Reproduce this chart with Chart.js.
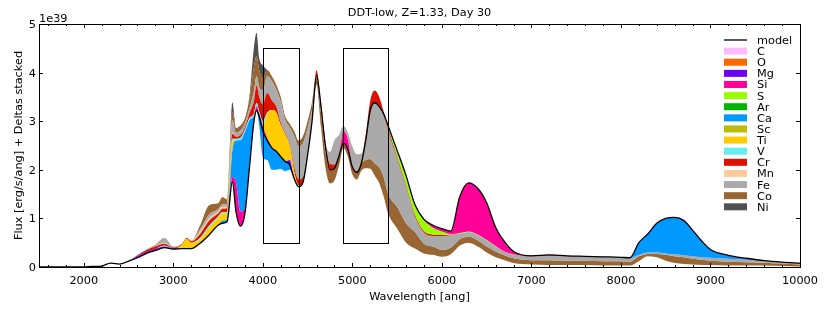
<!DOCTYPE html>
<html>
<head>
<meta charset="utf-8">
<script src="https://cdn.jsdelivr.net/npm/chart.js@4.4.1/dist/chart.umd.min.js"></script>
<style>
  html, body { margin: 0; padding: 0; background: #fff; }
</style>
</head>
<body>
<canvas id="spec" width="830" height="312"></canvas>
<script>
// wavelength grid [ang] and model flux [1e39 erg/s/ang]
const wavelength = [
    1500, 1700, 1900, 2100, 2200, 2300, 2400, 2500,
    2600, 2700, 2800, 2900, 3000, 3100, 3150, 3200, 3300,
    3400, 3500, 3550, 3600, 3660, 3700, 3750, 3800, 3850, 3900, 3930, 3960,
    4000, 4050, 4100, 4150, 4200, 4250, 4300, 4350, 4400, 4450, 4500, 4550, 4600,
    4650, 4700, 4750, 4800, 4850, 4900, 4950, 5000, 5050, 5100, 5150, 5200, 5250, 5300, 5350, 5400,
    5500, 5600, 5700, 5800, 5900, 6000, 6100, 6200, 6300, 6400, 6500, 6600, 6700, 6800,
    7000, 7200, 7400, 7600, 7800, 8000, 8100,
    8200, 8300, 8400, 8500, 8600, 8700, 8800, 8900, 9000,
    9200, 9400, 9600, 9800, 10000
];
const model = [
    0, 0, 0, 0.01, 0.02, 0.08, 0.06, 0.12,
    0.19, 0.28, 0.34, 0.40, 0.37, 0.38, 0.38, 0.38, 0.49,
    0.66, 0.86, 0.90, 0.93, 1.75, 1.14, 0.84, 1.10, 2.03, 2.98, 3.22, 3.10,
    2.80, 2.60, 2.45, 2.38, 2.27, 2.17, 2.10, 1.82, 1.65, 1.75, 2.30, 3.00, 3.95,
    3.30, 2.47, 2.00, 2.03, 2.28, 2.55, 2.42, 2.06, 1.95, 2.13, 2.61, 3.22, 3.38, 3.30, 3.15, 2.90,
    2.40, 1.88, 1.28, 0.98, 0.86, 0.79, 0.74, 1.45, 1.73, 1.62, 1.32, 0.82, 0.52, 0.32,
    0.23, 0.25, 0.23, 0.22, 0.21, 0.20, 0.19,
    0.50, 0.68, 0.90, 1.00, 1.02, 0.96, 0.76, 0.54, 0.36,
    0.24, 0.18, 0.13, 0.10, 0.08
];

// per-element deltas (positive: stacked above the model, negative: below)
const dMg = [
    0, 0, 0, 0, 0, 0, 0, 0,
    0.03, 0.03, 0.03, 0.02, 0.01, 0, 0, 0, 0,
    0, 0, 0, 0, 0, 0, 0, 0, 0, 0, 0, 0,
    0, 0, 0, 0, 0, 0, 0.1, 0, 0, 0, 0, 0, 0,
    0, 0, 0, 0, 0, 0, 0, 0, 0, 0, 0, 0, 0, 0, 0, 0,
    0, 0, 0, 0, 0, 0, 0, 0, 0, 0, 0, 0, 0, 0,
    0, 0, 0, 0, 0, 0, 0,
    0, 0, 0, 0, 0, 0, 0, 0, 0,
    0, 0, 0, 0, 0
];
const dSi = [
    0, 0, 0, 0, 0, 0, 0, 0,
    0, 0, 0, 0, 0, 0, 0, 0, 0,
    0, 0, 0, 0, 0.1, 0.6, 0.3, 0.1, 0.03, 0.03, 0.08, 0.05,
    0.1, 0.05, 0.03, 0, 0, 0, 0, 0, 0, 0, 0, 0, 0,
    0, 0, 0, 0, 0, 0.25, 0.2, 0, 0, 0, 0, 0, 0, 0, 0, 0,
    0, 0, 0, -0.02, -0.05, -0.06, -0.06, -0.75, -1.0, -0.95, -0.76, -0.39, -0.2, -0.06,
    -0.01, -0.01, -0.01, 0, 0, 0, 0,
    0, 0, 0, 0, 0, 0, 0, 0, 0,
    -0.01, -0.01, 0, 0, 0
];
const dS = [
    0, 0, 0, 0, 0, 0, 0, 0,
    0, 0, 0, 0, 0, 0, 0, 0, 0,
    0, 0, 0, 0, 0, 0, 0, 0, 0, 0, 0, 0,
    0, 0, 0, 0, 0, 0, 0, 0, 0, 0, 0, 0, 0,
    0, 0, 0, 0, 0, 0, 0, 0, 0, 0, 0, 0, 0, 0, 0, -0.05,
    -0.12, -0.18, -0.2, -0.22, -0.14, -0.07, -0.01, -0.01, -0.01, -0.01, -0.01, -0.01, 0, 0,
    0, 0, 0, 0, 0, 0, 0,
    0, 0, 0, 0, 0, 0, 0, 0, 0,
    0, 0, 0, 0, 0
];
const dCa = [
    0, 0, 0, 0, 0, 0, 0, 0,
    0, 0, 0, 0, 0, 0, 0, 0, 0,
    0, 0, 0.05, 0.05, 0.55, 0.86, 1.47, 1.58, 0.95, 0.1, 0, -0.2,
    -0.55, -0.4, -0.45, -0.38, -0.25, -0.2, -0.1, 0, 0, 0, 0, 0, 0,
    0, 0, 0, 0, 0, 0, 0, 0, 0, 0, 0, 0, 0, 0, 0, 0,
    0, 0, 0, 0, 0, 0, 0, 0, 0, 0, 0, 0, 0, 0,
    0, 0, 0, 0, 0, 0, -0.01,
    -0.25, -0.38, -0.6, -0.72, -0.76, -0.72, -0.54, -0.34, -0.17,
    -0.06, -0.02, 0, 0, 0
];
const dTi = [
    0, 0, 0, 0, 0, 0, 0, 0,
    0, 0, 0, 0, 0, 0.08, 0.2, 0.12, 0.08,
    0.15, 0.15, 0.15, 0.12, 0.2, 0, 0, 0, 0, 0, 0, 0,
    0, 0.5, 0.75, 0.8, 0.65, 0.55, 0.3, 0.15, 0.03, 0, 0, 0, 0,
    0, 0, 0, 0, 0, 0, 0, 0, 0, 0, 0, 0, 0, 0, 0, 0,
    0, 0, 0, 0, 0, 0, 0, 0, 0, 0, 0, 0, 0, 0,
    0, 0, 0, 0, 0, 0, 0,
    0, 0, 0, 0, 0, 0, 0, 0, 0,
    0, 0, 0, 0, 0
];
const dV = [
    0, 0, 0, 0, 0, 0, 0, 0,
    0, 0, 0, 0.02, 0, 0, 0, 0, 0.03,
    0.04, 0.03, 0.03, 0.03, 0.04, 0.04, 0.05, 0.05, 0.05, 0.05, 0.08, 0.05,
    0.1, 0.03, 0, 0, 0, 0, 0, 0, 0, 0, 0, 0, 0,
    0, 0, 0, 0, 0, 0, 0, 0, 0, 0, 0, 0, 0, 0, 0, 0,
    0, 0, 0, 0, 0, 0, 0, 0, 0, 0, 0, 0, 0, 0,
    0, 0, 0, 0, 0, 0, 0,
    0, 0, 0, 0, 0, 0, 0, 0, 0,
    0, 0, 0, 0, 0
];
const dCr = [
    0, 0, 0, 0, 0, 0, 0, 0,
    0.02, 0.04, 0.05, 0.04, 0.02, 0.02, 0.02, 0.03, 0.08,
    0.1, 0.06, 0.07, 0.08, 0.1, 0.04, 0.05, 0.05, 0.1, 0.25, 0.35, 0.3,
    0.35, 0.4, 0.2, 0.12, 0.05, 0.03, 0.03, 0.08, 0.12, 0.1, 0.05, 0.05, 0.1,
    0.08, 0.08, 0.12, 0.08, 0.03, 0, 0, 0.02, 0.02, 0.05, 0.12, 0.2, 0.25, 0.2, 0.05, -0.05,
    -0.04, -0.04, -0.04, -0.03, -0.03, -0.02, -0.01, 0, 0, 0, 0, 0, 0, 0,
    0, -0.01, 0, 0, 0, 0, 0,
    0, 0, 0, 0, 0, 0, 0, 0, 0,
    0, 0, 0, 0, 0
];
const dMn = [
    0, 0, 0, 0, 0, 0, 0, 0,
    0, 0, 0, 0.02, 0, 0, 0, 0, 0.05,
    0.05, 0.04, 0.04, 0.03, 0.03, 0, 0, 0, 0, 0, 0, 0,
    0, 0, 0, 0, 0, 0, 0, 0, 0, 0, 0, 0, 0,
    0, 0, 0, 0, 0, 0, 0, 0, 0, 0, 0, 0, 0, 0, 0, 0,
    0, 0, 0, 0, 0, 0, 0, 0, 0, 0, 0, 0, 0, 0,
    0, 0, 0, 0, 0, 0, 0,
    0, 0, 0, 0, 0, 0, 0, 0, 0,
    0, 0, 0, 0, 0
];
const dFe = [
    0, 0, 0, 0, 0, 0, 0, 0,
    0, 0.01, 0.03, 0.1, 0.02, 0, 0, 0.01, 0.05,
    0.08, 0.05, 0.05, 0.05, 0.25, 0.08, 0.1, 0.08, 0.1, 0.2, 0.2, 0.2,
    0.28, 0.35, 0.4, 0.35, 0.43, 0.27, 0.35, 0.65, 0.68, 0.7, 0.5, 0.2, 0,
    -0.12, -0.1, 0.25, 0.5, 0.4, 0.1, 0.15, 0.4, 0.35, 0.15, -0.41, -1.0, -1.25, -1.25, -1.3, -1.3,
    -1.0, -0.76, -0.32, -0.23, -0.22, -0.29, -0.26, -0.12, -0.1, -0.11, -0.13, -0.1, -0.08, -0.08,
    -0.08, -0.09, -0.09, -0.09, -0.09, -0.08, -0.07,
    -0.03, -0.03, -0.03, -0.03, -0.04, -0.04, -0.05, -0.05, -0.06,
    -0.06, -0.05, -0.04, -0.03, -0.03
];
const dCo = [
    0, 0, 0, 0, 0, 0, 0, 0,
    0, 0, 0.01, 0, 0, 0, 0, 0, 0.08,
    0.19, 0.12, 0.15, 0.1, 0.17, 0.1, 0.1, 0.1, 0.2, 0.5, 0.41, 0.35,
    0.25, 0.12, 0.1, 0.1, 0.1, 0.08, 0.07, 0.1, 0.12, 0.15, 0.15, 0.15, -0.2,
    -0.3, -0.33, -0.28, -0.25, -0.2, -0.1, -0.15, -0.15, -0.15, -0.15, -0.17, -0.2, -0.25, -0.32, -0.4, -0.4,
    -0.45, -0.4, -0.34, -0.2, -0.17, -0.14, -0.14, -0.13, -0.12, -0.13, -0.12, -0.12, -0.1, -0.1,
    -0.09, -0.1, -0.09, -0.09, -0.09, -0.09, -0.08,
    -0.1, -0.05, -0.07, -0.12, -0.14, -0.14, -0.12, -0.11, -0.09,
    -0.08, -0.07, -0.06, -0.05, -0.04
];
const dNi = [
    0, 0, 0, 0, 0, 0, 0, 0,
    0, 0, 0, 0, 0, 0, 0, 0, 0,
    0, 0, 0, 0, 0.2, 0, 0, 0, 0.05, 0.4, 0.48, 0.25,
    0.27, 0, 0, 0, 0, 0, 0, 0, 0, 0, 0, 0, 0,
    0, 0, 0, 0, 0, 0, 0, 0, 0, 0, 0, 0, 0, 0, 0, 0,
    0, 0, 0, 0, 0, 0, 0, 0, 0, 0, 0, 0, 0, 0,
    0, 0, 0, 0, 0, 0, 0,
    0, 0, 0, 0, 0, 0, 0, 0, 0,
    0, 0, 0, 0, 0
];

const elements = ['C', 'O', 'Mg', 'Si', 'S', 'Ar', 'Ca', 'Sc', 'Ti', 'V', 'Cr', 'Mn', 'Fe', 'Co', 'Ni'];
const elementColors = ['#ffbbff', '#ff6600', '#6a00ff', '#ff0099', '#99ff00', '#00b400', '#0099ff', '#bbbb00',
                       '#ffcc00', '#66eeee', '#dd1100', '#ffcc99', '#aaaaaa', '#996633', '#505050'];
// C, O, Ar and Sc have no visible contribution
const deltas = { Mg: dMg, Si: dSi, S: dS, Ca: dCa, Ti: dTi, V: dV, Cr: dCr, Mn: dMn, Fe: dFe, Co: dCo, Ni: dNi };

const xTicks = [2000, 3000, 4000, 5000, 6000, 7000, 8000, 9000, 10000];
const xMinorTicks = [1600, 1800, 2200, 2400, 2600, 2800, 3200, 3400, 3600, 3800, 4200, 4400, 4600, 4800,
                     5200, 5400, 5600, 5800, 6200, 6400, 6600, 6800, 7200, 7400, 7600, 7800,
                     8200, 8400, 8600, 8800, 9200, 9400, 9600, 9800];
const yTicks = [0, 1, 2, 3, 4, 5];
// [x0, x1, y0, y1] in data units
const boxes = [[4000, 4400, 0.5, 4.5], [4900, 5400, 0.5, 4.5]];

const FONT = '11.3px "DejaVu Sans", sans-serif';
const pts = arr => wavelength.map((x, i) => ({ x: x, y: arr[i] }));

const datasets = [{
    label: 'model',
    data: pts(model),
    borderColor: '#000',
    borderWidth: 1.3,
    fill: false,
    order: -1
}];

function addStack(keep) {
    datasets.push({ data: pts(model), borderColor: 'rgba(0,0,0,0)', borderWidth: 0, fill: false });
    let prev = datasets.length - 1;
    let level = model.slice();
    elements.forEach((el, k) => {
        const d = deltas[el];
        if (!d) return;
        level = level.map((v, i) => v + keep(d[i]));
        datasets.push({
            label: el,
            data: pts(level),
            backgroundColor: elementColors[k],
            borderColor: 'rgba(0,0,0,0)',
            borderWidth: 0,
            fill: prev
        });
        prev = datasets.length - 1;
    });
}
addStack(v => Math.max(v, 0));
addStack(v => Math.min(v, 0));

const decor = {
    id: 'decor',
    afterDraw(chart) {
        const { ctx, chartArea: a, scales: { x, y } } = chart;
        const px = v => Math.round(x.getPixelForValue(v)) + 0.5;
        const py = v => Math.round(y.getPixelForValue(v)) + 0.5;
        ctx.save();
        ctx.strokeStyle = '#000';
        ctx.lineWidth = 1;

        boxes.forEach(([x0, x1, y0, y1]) => {
            ctx.strokeRect(px(x0), py(y1), px(x1) - px(x0), py(y0) - py(y1));
        });

        ctx.strokeRect(a.left + 0.5, a.top + 0.5, a.right - a.left, a.bottom - a.top);

        // inward ticks on all sides
        ctx.beginPath();
        xTicks.forEach(v => {
            ctx.moveTo(px(v), a.bottom); ctx.lineTo(px(v), a.bottom - 4);
            ctx.moveTo(px(v), a.top); ctx.lineTo(px(v), a.top + 4);
        });
        xMinorTicks.forEach(v => {
            ctx.moveTo(px(v), a.bottom); ctx.lineTo(px(v), a.bottom - 2);
            ctx.moveTo(px(v), a.top); ctx.lineTo(px(v), a.top + 2);
        });
        yTicks.forEach(v => {
            ctx.moveTo(a.left, py(v)); ctx.lineTo(a.left + 4, py(v));
            ctx.moveTo(a.right, py(v)); ctx.lineTo(a.right - 4, py(v));
        });
        ctx.stroke();

        ctx.fillStyle = '#000';
        ctx.font = FONT;
        ctx.textBaseline = 'alphabetic';
        ctx.textAlign = 'center';
        xTicks.forEach(v => ctx.fillText(String(v), x.getPixelForValue(v), a.bottom + 17));
        ctx.textAlign = 'right';
        yTicks.forEach(v => ctx.fillText(String(v), a.left - 3, y.getPixelForValue(v) + 4));

        ctx.textAlign = 'left';
        ctx.fillText('1e39', a.left, a.top - 2);
        ctx.textAlign = 'center';
        ctx.fillText('DDT-low, Z=1.33, Day 30', (a.left + a.right) / 2, 16);
        ctx.fillText('Wavelength [ang]', (a.left + a.right) / 2, a.bottom + 33);
        ctx.save();
        ctx.translate(22, (a.top + a.bottom) / 2);
        ctx.rotate(-Math.PI / 2);
        ctx.fillText('Flux [erg/s/ang] + Deltas stacked', 0, 0);
        ctx.restore();

        // legend
        const lx = a.right - 76, ly = a.top + 16, dy = 11.12;
        ctx.textAlign = 'left';
        ctx.lineWidth = 1.3;
        ctx.beginPath();
        ctx.moveTo(lx, ly); ctx.lineTo(lx + 23, ly);
        ctx.stroke();
        ctx.fillText('model', lx + 33, ly + 4);
        elements.forEach((el, k) => {
            const yy = ly + (k + 1) * dy;
            ctx.fillStyle = elementColors[k];
            ctx.fillRect(lx, yy - 3.5, 23, 7);
            ctx.fillStyle = '#000';
            ctx.fillText(el, lx + 33, yy + 4);
        });
        ctx.restore();
    }
};

new Chart(document.getElementById('spec'), {
    type: 'line',
    data: { datasets: datasets },
    options: {
        responsive: false,
        animation: false,
        devicePixelRatio: 1,
        layout: { padding: { left: 39, right: 30, top: 24, bottom: 45 } },
        scales: {
            x: { type: 'linear', min: 1500, max: 10000, display: false },
            y: { type: 'linear', min: 0, max: 5, display: false }
        },
        elements: {
            point: { radius: 0 },
            line: { cubicInterpolationMode: 'monotone' }
        },
        plugins: {
            legend: { display: false },
            tooltip: { enabled: false }
        }
    },
    plugins: [decor]
});
</script>
</body>
</html>
